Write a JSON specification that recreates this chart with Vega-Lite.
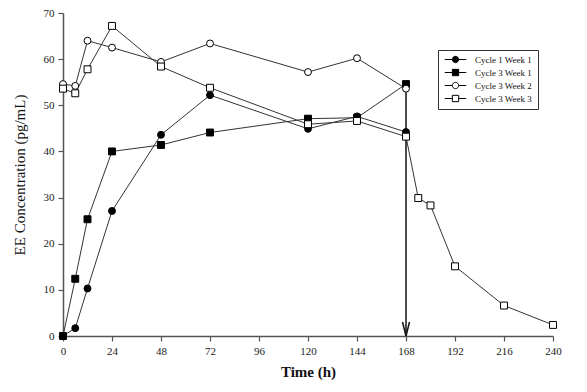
{
  "$schema": "https://vega.github.io/schema/vega-lite/v6.json",
  "width": 490,
  "height": 323,
  "autosize": {"type": "none"},
  "padding": {"left": 63, "top": 13, "right": 34, "bottom": 56},
  "background": "white",
  "config": {
    "view": {"stroke": null},
    "font": "Liberation Serif",
    "axis": {
      "labelFont": "Liberation Serif",
      "titleFont": "Liberation Serif",
      "labelFontSize": 11,
      "labelColor": "#222",
      "titleColor": "#111",
      "domainColor": "#555",
      "domainWidth": 1.5,
      "tickColor": "#555",
      "tickWidth": 1.2,
      "grid": false
    },
    "legend": {
      "title": null,
      "orient": "none",
      "legendX": 375,
      "legendY": 37,
      "padding": 5,
      "strokeColor": "#333",
      "fillColor": "white",
      "labelFont": "Liberation Serif",
      "labelFontSize": 9,
      "labelColor": "#111",
      "labelOffset": 15,
      "rowPadding": 2,
      "symbolSize": 40,
      "symbolOffset": 8,
      "symbolStrokeWidth": 1
    }
  },
  "datasets": {
    "series": [
      {"series": "Cycle 1 Week 1", "time": 0, "conc": 0},
      {"series": "Cycle 1 Week 1", "time": 6, "conc": 1.7},
      {"series": "Cycle 1 Week 1", "time": 12, "conc": 10.3},
      {"series": "Cycle 1 Week 1", "time": 24, "conc": 27.1},
      {"series": "Cycle 1 Week 1", "time": 48, "conc": 43.6},
      {"series": "Cycle 1 Week 1", "time": 72, "conc": 52.2},
      {"series": "Cycle 1 Week 1", "time": 120, "conc": 44.9},
      {"series": "Cycle 1 Week 1", "time": 144, "conc": 47.6},
      {"series": "Cycle 1 Week 1", "time": 168, "conc": 44.2},
      {"series": "Cycle 3 Week 1", "time": 0, "conc": 0},
      {"series": "Cycle 3 Week 1", "time": 6, "conc": 12.4},
      {"series": "Cycle 3 Week 1", "time": 12, "conc": 25.3},
      {"series": "Cycle 3 Week 1", "time": 24, "conc": 40.0},
      {"series": "Cycle 3 Week 1", "time": 48, "conc": 41.4},
      {"series": "Cycle 3 Week 1", "time": 72, "conc": 44.1},
      {"series": "Cycle 3 Week 1", "time": 120, "conc": 47.1},
      {"series": "Cycle 3 Week 1", "time": 144, "conc": 47.3},
      {"series": "Cycle 3 Week 1", "time": 168, "conc": 54.6},
      {"series": "Cycle 3 Week 2", "time": 0, "conc": 54.6},
      {"series": "Cycle 3 Week 2", "time": 6, "conc": 54.2},
      {"series": "Cycle 3 Week 2", "time": 12, "conc": 64.0},
      {"series": "Cycle 3 Week 2", "time": 24, "conc": 62.5},
      {"series": "Cycle 3 Week 2", "time": 48, "conc": 59.4},
      {"series": "Cycle 3 Week 2", "time": 72, "conc": 63.4},
      {"series": "Cycle 3 Week 2", "time": 120, "conc": 57.2},
      {"series": "Cycle 3 Week 2", "time": 144, "conc": 60.2},
      {"series": "Cycle 3 Week 2", "time": 168, "conc": 53.6},
      {"series": "Cycle 3 Week 3", "time": 0, "conc": 53.6},
      {"series": "Cycle 3 Week 3", "time": 6, "conc": 52.6},
      {"series": "Cycle 3 Week 3", "time": 12, "conc": 57.8},
      {"series": "Cycle 3 Week 3", "time": 24, "conc": 67.2},
      {"series": "Cycle 3 Week 3", "time": 48, "conc": 58.4},
      {"series": "Cycle 3 Week 3", "time": 72, "conc": 53.8},
      {"series": "Cycle 3 Week 3", "time": 120, "conc": 45.9},
      {"series": "Cycle 3 Week 3", "time": 144, "conc": 46.6},
      {"series": "Cycle 3 Week 3", "time": 168, "conc": 43.2},
      {"series": "Cycle 3 Week 3", "time": 174, "conc": 29.9},
      {"series": "Cycle 3 Week 3", "time": 180, "conc": 28.3},
      {"series": "Cycle 3 Week 3", "time": 192, "conc": 15.1},
      {"series": "Cycle 3 Week 3", "time": 216, "conc": 6.6},
      {"series": "Cycle 3 Week 3", "time": 240, "conc": 2.4}
    ],
    "arrow": [
      {"time": 168, "top": 55, "bottom": 0}
    ]
  },
  "resolve": {
    "scale": {"shape": "independent", "fill": "independent", "stroke": "independent"},
    "legend": {"shape": "independent", "fill": "independent", "stroke": "independent"}
  },
  "layer": [
    {
      "data": {"name": "series"},
      "mark": {"type": "line", "color": "#333", "strokeWidth": 1},
      "encoding": {
        "x": {
          "field": "time", "type": "quantitative",
          "scale": {"domain": [0, 240], "nice": false, "zero": false},
          "axis": {
            "title": "Time (h)",
            "titleFontSize": 15,
            "titleFontWeight": "bold",
            "titlePadding": 8,
            "values": [0,6,12,18,24,30,36,42,48,54,60,66,72,78,84,90,96,102,108,114,120,126,132,138,144,150,156,162,168,174,180,186,192,198,204,210,216,222,228,234,240],
            "labelExpr": "datum.value % 24 === 0 ? datum.label : ''",
            "labelOverlap": false,
            "labelFlush": false,
            "labelPadding": 4,
            "tickSize": {"condition": {"test": "datum.value % 24 === 0", "value": 5}, "value": 3}
          }
        },
        "y": {
          "field": "conc", "type": "quantitative",
          "scale": {"domain": [0, 70], "nice": false},
          "axis": {
            "title": "EE Concentration (pg/mL)",
            "titleFontSize": 15,
            "titleFontWeight": "normal",
            "titlePadding": 16,
            "values": [0,5,10,15,20,25,30,35,40,45,50,55,60,65,70],
            "labelExpr": "datum.value % 10 === 0 ? datum.label : ''",
            "labelOverlap": false,
            "labelFlush": false,
            "labelPadding": 4,
            "tickSize": {"condition": {"test": "datum.value % 10 === 0", "value": 5}, "value": 3}
          }
        },
        "detail": {"field": "series"}
      }
    },
    {
      "data": {"name": "arrow"},
      "mark": {"type": "rule", "color": "#111", "strokeWidth": 1.5},
      "encoding": {
        "x": {"field": "time", "type": "quantitative"},
        "y": {"field": "top", "type": "quantitative"},
        "y2": {"field": "bottom"}
      }
    },
    {
      "data": {"name": "arrow"},
      "mark": {"type": "point", "shape": "M-0.5,-2L0,0L0.5,-2", "filled": false, "stroke": "#111", "strokeWidth": 1.5, "size": 196, "opacity": 1},
      "encoding": {
        "x": {"field": "time", "type": "quantitative"},
        "y": {"field": "bottom", "type": "quantitative"}
      }
    },
    {
      "data": {"name": "series"},
      "mark": {"type": "point", "filled": true, "stroke": "#000", "strokeWidth": 1, "size": 48, "opacity": 1},
      "encoding": {
        "x": {"field": "time", "type": "quantitative"},
        "y": {"field": "conc", "type": "quantitative"},
        "shape": {
          "field": "series", "type": "nominal",
          "scale": {"domain": ["Cycle 1 Week 1", "Cycle 3 Week 1", "Cycle 3 Week 2", "Cycle 3 Week 3"], "range": ["circle", "square", "circle", "square"]},
          "legend": null
        },
        "fill": {
          "field": "series", "type": "nominal",
          "scale": {"domain": ["Cycle 1 Week 1", "Cycle 3 Week 1", "Cycle 3 Week 2", "Cycle 3 Week 3"], "range": ["#000", "#000", "#fff", "#fff"]},
          "legend": null
        }
      }
    },
    {
      "data": {"name": "series"},
      "transform": [{"filter": "datum.time < 0"}],
      "mark": {"type": "point", "filled": true, "strokeWidth": 1, "opacity": 1},
      "encoding": {
        "x": {"field": "time", "type": "quantitative"},
        "y": {"field": "conc", "type": "quantitative"},
        "shape": {
          "field": "series", "type": "nominal",
          "scale": {"domain": ["Cycle 1 Week 1", "Cycle 3 Week 1", "Cycle 3 Week 2", "Cycle 3 Week 3"],
                    "range": ["M-3.4,0H-1M1,0H3.4M-1,0A1,1 0 1,0 1,0A1,1 0 1,0 -1,0Z", "M-3.4,0H-1M1,0H3.4M-1,-1H1V1H-1Z", "M-3.4,0H-1M1,0H3.4M-1,0A1,1 0 1,0 1,0A1,1 0 1,0 -1,0Z", "M-3.4,0H-1M1,0H3.4M-1,-1H1V1H-1Z"]}
        },
        "fill": {
          "field": "series", "type": "nominal",
          "scale": {"domain": ["Cycle 1 Week 1", "Cycle 3 Week 1", "Cycle 3 Week 2", "Cycle 3 Week 3"], "range": ["#000", "#000", "#fff", "#fff"]}
        },
        "stroke": {
          "field": "series", "type": "nominal",
          "scale": {"domain": ["Cycle 1 Week 1", "Cycle 3 Week 1", "Cycle 3 Week 2", "Cycle 3 Week 3"], "range": ["#000", "#000", "#000", "#000"]}
        }
      }
    }
  ]
}
